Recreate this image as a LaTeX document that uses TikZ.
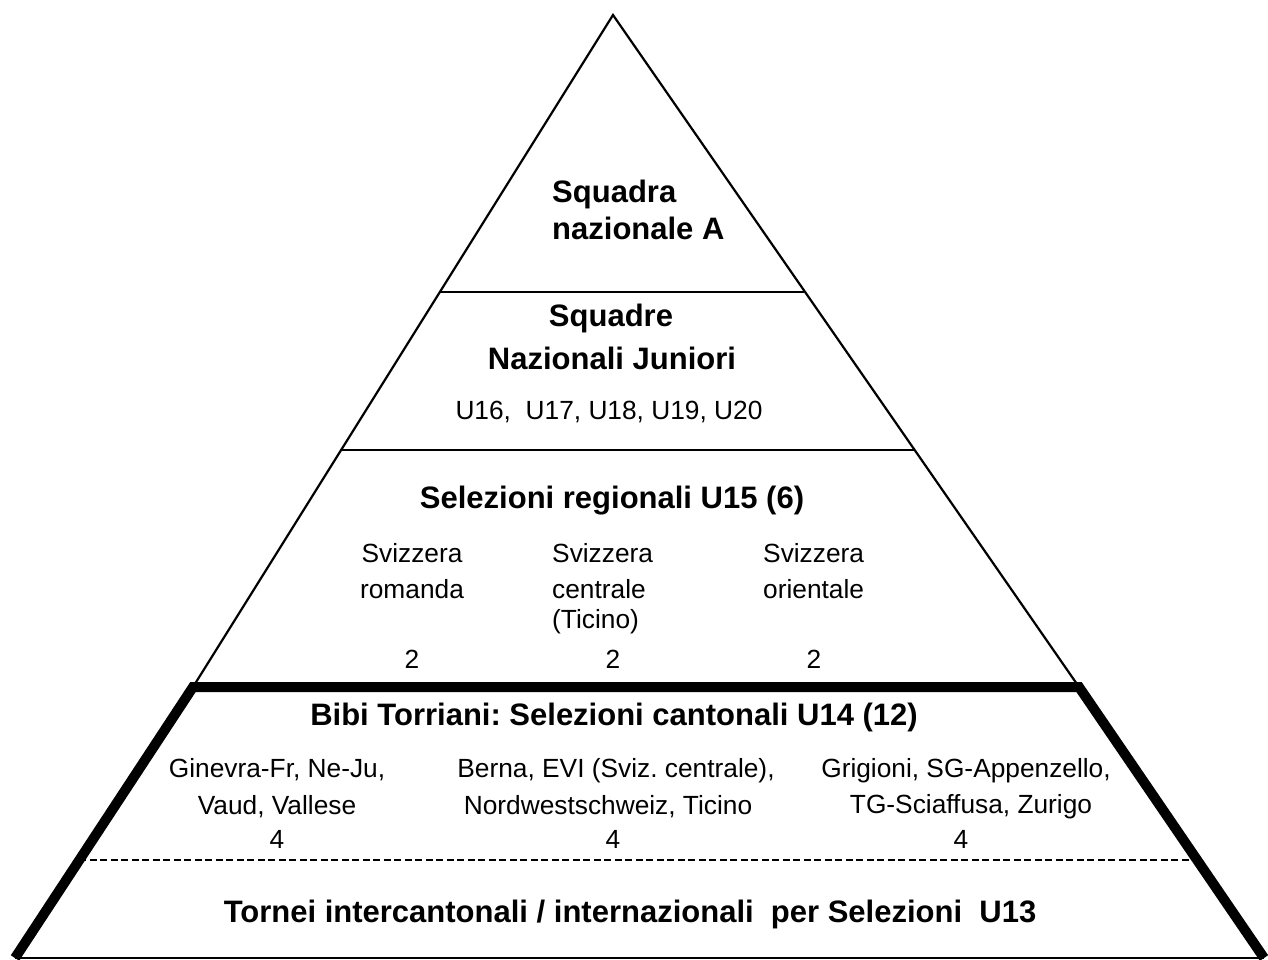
\documentclass[tikz,border=0pt]{standalone}
\usepackage{fontspec}
\setmainfont{Liberation Sans}
\frenchspacing
\begin{document}
\begin{tikzpicture}[x=1pt,y=-1pt,
  norm/.style={font=\fontsize{26.3}{30}\selectfont\frenchspacing, inner sep=0pt, anchor=base},
  bld/.style={font=\fontsize{31}{36}\selectfont\bfseries\frenchspacing, inner sep=0pt, anchor=base},
  hline/.style={line width=1.3pt},
  side/.style={line width=2.2pt},
  heavy/.style={line width=10pt, line join=miter},
  dashline/.style={line width=2.4pt, dash pattern=on 7pt off 3.5pt}]
\useasboundingbox (0,0) rectangle (1268,960);
% key points
\coordinate (apex) at (613,15);
\coordinate (TL) at (193,687);
\coordinate (TR) at (1079,687);
\coordinate (BL) at (15,958);
\coordinate (BR) at (1264,958);
\coordinate (h1l) at (440,292);
\coordinate (h1r) at (804,292);
\coordinate (h2l) at (340,450);
\coordinate (h2r) at (914,450);
\coordinate (dl) at (79,860);
\coordinate (dr) at (1197,860);
% thin triangle
\draw[side] (TL) -- (apex) -- (TR);
\draw[hline] (h1l) -- (h1r);
\draw[hline] (h2l) -- (h2r);
\draw[dashline] (dl) -- (dr);
\draw[hline] (BL) -- (BR);
\draw[heavy] (BL) -- (TL) -- (TR) -- (BR);
% texts
\node[bld, anchor=base west] (sqa) at (552,203) {Squadra};
\node[bld, anchor=base west] (sqb) at (552,239) {nazionale A};
\node[bld] (sj1) at (611,326) {Squadre};
\node[bld] (sj2) at (612,369) {Nazionali Juniori};
\node[norm] (u) at (609,419) {U16,\ \ U17, U18, U19, U20};
\node[bld] (sel) at (612,508) {Selezioni regionali U15 (6)};
\node[norm] (r1) at (412,562) {Svizzera};
\node[norm] (r2) at (412,598) {romanda};
\node[norm] (r3) at (412,668) {2};
\node[norm, anchor=base west] (c1) at (552,562) {Svizzera};
\node[norm, anchor=base west] (c2) at (552,598) {centrale};
\node[norm, anchor=base west] (c3) at (552,628) {(Ticino)};
\node[norm] (c4) at (613,668) {2};
\node[norm, anchor=base west] (o1) at (763,562) {Svizzera};
\node[norm, anchor=base west] (o2) at (763,598) {orientale};
\node[norm] (o3) at (814,668) {2};
\node[bld] (bibi) at (614,725) {Bibi Torriani: Selezioni cantonali U14 (12)};
\node[norm] (g1) at (277,777) {Ginevra-Fr, Ne-Ju,};
\node[norm] (g2) at (277,814) {Vaud, Vallese};
\node[norm] (g3) at (277,848) {4};
\node[norm] (b1) at (616,777) {Berna, EVI (Sviz. centrale),};
\node[norm] (b2) at (608,814) {Nordwestschweiz, Ticino};
\node[norm] (b3) at (613,848) {4};
\node[norm] (z1) at (966,777) {Grigioni, SG-Appenzello,};
\node[norm] (z2) at (971,813) {TG-Sciaffusa, Zurigo};
\node[norm] (z3) at (961,848) {4};
\node[bld] (tor) at (630,922) {Tornei intercantonali / internazionali\ \ per Selezioni\ \ U13};
\end{tikzpicture}
\end{document}
